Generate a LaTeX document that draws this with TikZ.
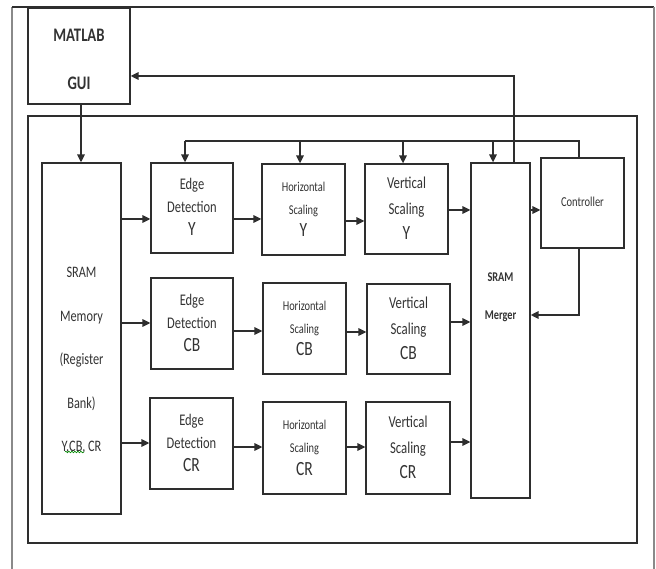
\documentclass[tikz,border=0pt]{standalone}
\usepackage{fontspec}
\setmainfont{Carlito}
\usepackage{graphicx}
\usetikzlibrary{arrows.meta,decorations.pathmorphing}
\definecolor{linec}{HTML}{2E2E2E}
\definecolor{framec}{HTML}{8A8A8A}
\definecolor{txtc}{HTML}{333333}
\newcommand\stk[1]{\scalebox{1}[1.3]{\begin{tabular}{@{}c@{}}#1\end{tabular}}}
\newcommand\fs[2]{\fontsize{#1}{#2}\selectfont}
\tikzset{
  blk/.style={draw=linec, line width=1.3pt, inner sep=0pt, text=txtc, align=center},
  lbl/.style={inner sep=0pt, text=txtc},
  arr/.style={draw=linec, line width=1.6pt, -{Triangle[length=8pt,width=7.5pt]}},
  wire/.style={draw=linec, line width=1.5pt},
}
\begin{document}
\begin{tikzpicture}[x=1pt,y=-1pt]
\useasboundingbox (0,0) rectangle (656,569);
% outer frame (no bottom edge)
\draw[framec, line width=1.5pt] (12,569) -- (12,7);
\draw[linec, line width=1.3pt] (12,7) -- (654,7);
\draw[framec, line width=2.5pt] (654,7) -- (654,569);
% inner frame
\draw[linec, line width=1.3pt] (28,116) rectangle (637,543);

% blocks
\node[blk, minimum width=102pt, minimum height=86pt, font=\fs{14.7}{37}\bfseries] (gui) at (79,56) {\stk{MATLAB\\GUI}};
\node[blk, minimum width=79pt, minimum height=351pt] (sram) at (81.5,338.5) {};
\node[lbl, font=\fs{12.3}{33.5}] (sramtxt) at (81.5,356) {\stk{SRAM\\Memory\\(Register\\Bank)\\Y,CB, CR}};

\node[blk, minimum width=82pt, minimum height=90pt, font=\fs{12.5}{17.7}] (eY) at (192,208) {\stk{Edge\\Detection\\\fs{15.5}{17.7}Y}};
\node[blk, minimum width=82pt, minimum height=91pt, font=\fs{12.5}{17.7}] (eCB) at (192,323.5) {\stk{Edge\\Detection\\\fs{15.5}{17.7}CB}};
\node[blk, minimum width=83pt, minimum height=91pt, font=\fs{12.5}{17.7}] (eCR) at (191.5,443.5) {\stk{Edge\\Detection\\\fs{15.5}{17.7}CR}};

\node[blk, minimum width=83pt, minimum height=91pt, font=\fs{10.4}{17.5}] (hY) at (303.5,209.5) {\stk{Horizontal\\Scaling\\\fs{15.5}{17.5}Y}};
\node[blk, minimum width=83pt, minimum height=91pt, font=\fs{10.4}{17.5}] (hCB) at (304.5,328.5) {\stk{Horizontal\\Scaling\\\fs{15.5}{17.5}CB}};
\node[blk, minimum width=83pt, minimum height=92pt, font=\fs{10.4}{17.5}] (hCR) at (304.5,448) {\stk{Horizontal\\Scaling\\\fs{15.5}{17.5}CR}};

\node[blk, minimum width=83pt, minimum height=90pt, font=\fs{12.8}{19.5}] (vY) at (406.5,209) {\stk{Vertical\\Scaling\\\fs{15.5}{19.5}Y}};
\node[blk, minimum width=83pt, minimum height=90pt, font=\fs{12.8}{19.5}] (vCB) at (408.5,329) {\stk{Vertical\\Scaling\\\fs{15.5}{19.5}CB}};
\node[blk, minimum width=84pt, minimum height=92pt, font=\fs{12.8}{19.5}] (vCR) at (408,448) {\stk{Vertical\\Scaling\\\fs{15.5}{19.5}CR}};

\node[blk, minimum width=59pt, minimum height=335pt] (merger) at (500.5,330.5) {};
\node[lbl, font=\fs{10.3}{29}\bfseries] (mergertxt) at (500.5,293) {\stk{SRAM\\Merger}};

\node[blk, minimum width=83pt, minimum height=90pt, font=\fs{10.5}{14}] (ctrl) at (582.5,203) {\stk{Controller}};

% spell-check squiggle under CB
\draw[green!55!black, line width=0.6pt, decorate, decoration={snake, amplitude=0.8pt, segment length=3pt}] (65,452) -- (84,452);

% MATLAB GUI -> SRAM
\draw[arr] ([xshift=2pt]gui.south) -- ([xshift=-0.5pt]sram.north);
% merger -> GUI feedback
\draw[arr] ([xshift=13.5pt]merger.north) |- ([yshift=-20pt]gui.east);

% control bus
\coordinate (busL) at (185,141);
\draw[wire] (busL) -- ([xshift=-3.5pt]ctrl.north |- busL) -- ([xshift=-3.5pt]ctrl.north);
\draw[arr] (busL) -- (busL |- eY.north);
\draw[arr] ([xshift=-3.5pt]hY.north |- busL) -- ([xshift=-3.5pt]hY.north);
\draw[arr] ([xshift=-3.5pt]vY.north |- busL) -- ([xshift=-3.5pt]vY.north);
\draw[arr] ([xshift=-7.5pt]merger.north |- busL) -- ([xshift=-7.5pt]merger.north);

% row Y
\draw[arr] (sram.east |- 0,219) -- (eY.west |- 0,219);
\draw[arr] (eY.east |- 0,219) -- (hY.west |- 0,219);
\draw[arr] (hY.east |- 0,221) -- (vY.west |- 0,221);
\draw[arr] (vY.east |- 0,210) -- (merger.west |- 0,210);
% row CB
\draw[arr] (sram.east |- 0,323) -- (eCB.west |- 0,323);
\draw[arr] (eCB.east |- 0,331) -- (hCB.west |- 0,331);
\draw[arr] (hCB.east |- 0,332) -- (vCB.west |- 0,332);
\draw[arr] (vCB.east |- 0,322) -- (merger.west |- 0,322);
% row CR
\draw[arr] (sram.east |- 0,443) -- (eCR.west |- 0,443);
\draw[arr] (eCR.east |- 0,447) -- (hCR.west |- 0,447);
\draw[arr] (hCR.east |- 0,447) -- (vCR.west |- 0,447);
\draw[arr] (vCR.east |- 0,442) -- (merger.west |- 0,442);

% merger <-> controller
\draw[arr] (merger.east |- 0,210) -- (ctrl.west |- 0,210);
\draw[arr] ([xshift=-3.5pt]ctrl.south) |- (merger.east |- 0,315);
\end{tikzpicture}
\end{document}
